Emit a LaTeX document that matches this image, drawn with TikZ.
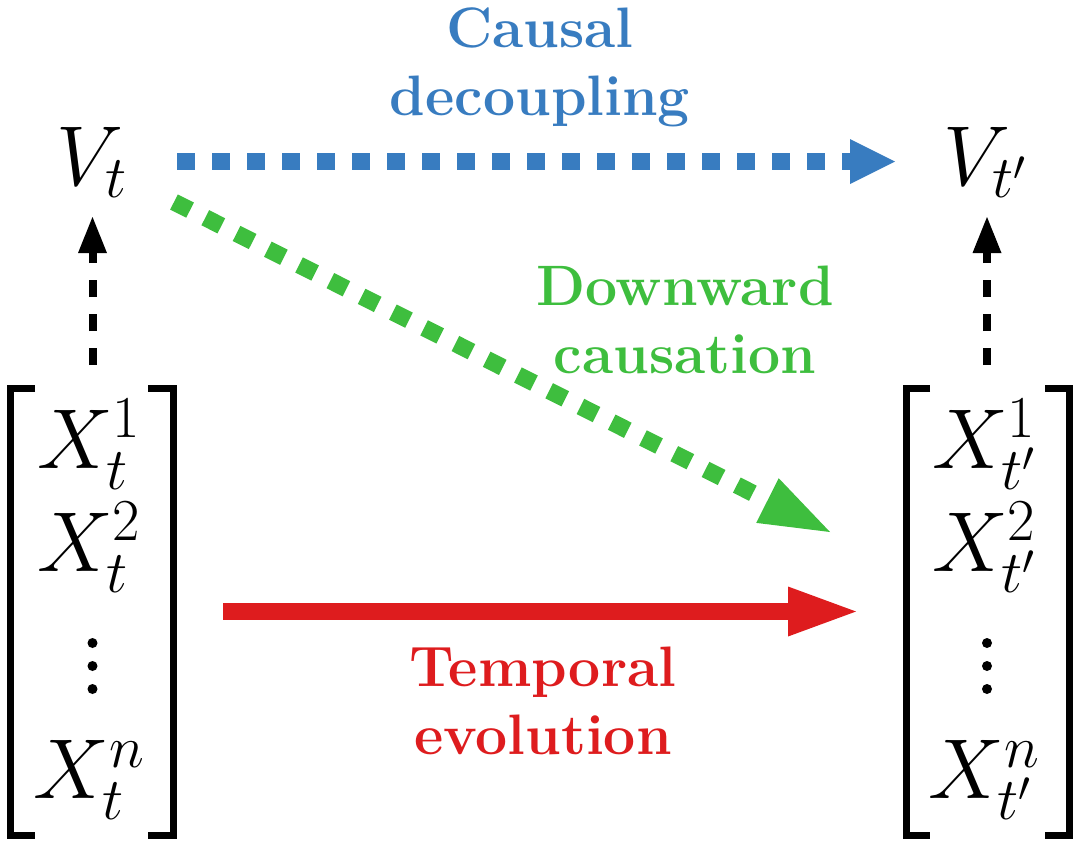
\RequirePackage{fix-cm}
\documentclass[tikz,border=0pt]{standalone}
\usetikzlibrary{arrows.meta}
\definecolor{cblue}{RGB}{56,124,192}
\definecolor{cgreen}{RGB}{62,190,62}
\definecolor{cred}{RGB}{222,28,30}
\begin{document}
\begin{tikzpicture}[x=1pt,y=-1pt,
  mth/.style={inner sep=0pt, font=\fontsize{85}{100}\selectfont},
  lbl/.style={inner sep=0pt, align=center, font=\fontsize{57}{68}\selectfont\bfseries},
  brk/.style={line width=7pt, line join=miter},
  dotc/.style={fill=black, circle, inner sep=0pt, minimum size=10pt},
  upar/.style={line width=8pt, dash pattern=on 17pt off 17pt, -{Triangle[length=36pt,width=29pt,line width=0pt]}},
  blu/.style={cblue, line width=17pt, dash pattern=on 18pt off 17pt, -{Triangle[length=45pt,width=45pt,line width=0pt]}},
  grn/.style={cgreen, line width=17pt, dash pattern=on 18pt off 17pt, -{Triangle[length=70pt,width=50pt,line width=0pt]}},
  rd/.style={cred, line width=17pt, -{Triangle[length=68pt,width=50pt,line width=0pt]}},
]
\useasboundingbox (0,0) rectangle (1080,847);
\fill[white] (0,0) rectangle (1080,847);

% math nodes
\node[mth, anchor=base] (Vt)  at (92,185)  {$V_t$};
\node[mth, anchor=base] (Vtp) at (985,185) {$V_{t'}$};
\node[mth, anchor=base] (X1)  at (89,468)  {$X_t^1$};
\node[mth, anchor=base] (X2)  at (89,571)  {$X_t^2$};
\node[mth, anchor=base] (Xn)  at (89,798)  {$X_t^n$};
\node[mth, anchor=base] (X1p) at (984,468) {$X_{t'}^1$};
\node[mth, anchor=base] (X2p) at (984,571) {$X_{t'}^2$};
\node[mth, anchor=base] (Xnp) at (984,798) {$X_{t'}^n$};

% vertical dots
\node[dotc] (da1) at (92.5,643) {};
\node[dotc] (da2) at (92.5,666) {};
\node[dotc] (da3) at (92.5,689) {};
\node[dotc] (db1) at (987,643) {};
\node[dotc] (db2) at (987,666) {};
\node[dotc] (db3) at (987,689) {};

% brackets
\draw[brk] (35,388.5) -- (10.5,388.5) -- (10.5,835.5) -- (35,835.5);
\draw[brk] (148,388.5) -- (173.5,388.5) -- (173.5,835.5) -- (148,835.5);
\draw[brk] (930,388.5) -- (906,388.5) -- (906,835.5) -- (930,835.5);
\draw[brk] (1045,388.5) -- (1069,388.5) -- (1069,835.5) -- (1045,835.5);

% labels
\node[lbl, cblue,  anchor=north] (lcaus) at (540,8)   {Causal\\decoupling};
\node[lbl, cgreen, anchor=north] (ldown) at (685,266) {Downward\\causation};
\node[lbl, cred,   anchor=north] (ltemp) at (543,647) {Temporal\\evolution};

% connector end points
\coordinate (bs) at (177,161.5);
\coordinate (be) at (895,161.5);
\coordinate (gs) at (174,202);
\coordinate (ge) at (830,532);
\coordinate (rs) at (223,611.5);
\coordinate (re) at (856,611.5);
\coordinate (ls) at (92.5,365);
\coordinate (le) at (92.5,217);
\coordinate (ms) at (987,365);
\coordinate (me) at (987,217);

\draw[blu] (bs) -- (be);
\draw[grn] (gs) -- (ge);
\draw[rd]  (rs) -- (re);
\draw[upar] (ls) -- (le);
\draw[upar] (ms) -- (me);
\end{tikzpicture}
\end{document}
